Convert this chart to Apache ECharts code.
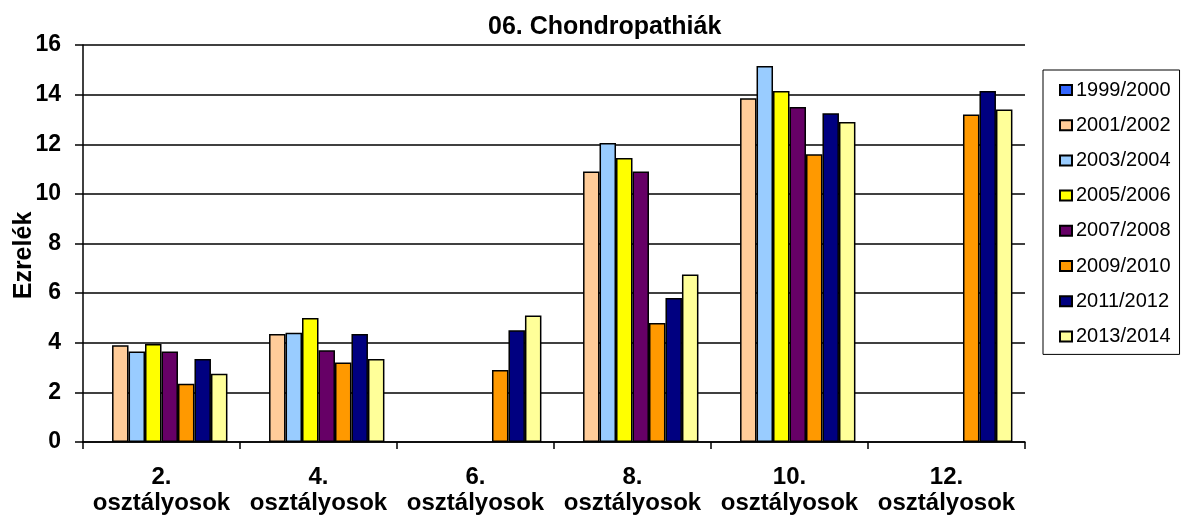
<!DOCTYPE html>
<html>
<head>
<meta charset="utf-8">
<script src="https://cdn.jsdelivr.net/npm/echarts@6/dist/echarts.min.js"></script>
<style>
  html, body { margin: 0; padding: 0; background: #fff; }
  #chart { width: 1183px; height: 515px; }
</style>
</head>
<body>
<div id="chart"></div>
<script>
const categories = ['2.\nosztályosok', '4.\nosztályosok', '6.\nosztályosok', '8.\nosztályosok', '10.\nosztályosok', '12.\nosztályosok'];
const yTicks = [0, 2, 4, 6, 8, 10, 12, 14, 16];

const s1999 = [null, null, null, null, null, null];
const s2001 = [3.9, 4.35, null, 10.9, 13.85, null];
const s2003 = [3.65, 4.4, null, 12.05, 15.15, null];
const s2005 = [3.95, 5.0, null, 11.45, 14.15, null];
const s2007 = [3.65, 3.7, null, 10.9, 13.5, null];
const s2009 = [2.35, 3.2, 2.9, 4.8, 11.6, 13.2];
const s2011 = [3.35, 4.35, 4.5, 5.8, 13.25, 14.15];
const s2013 = [2.75, 3.35, 5.1, 6.75, 12.9, 13.4];

const seriesNames = ['1999/2000', '2001/2002', '2003/2004', '2005/2006', '2007/2008', '2009/2010', '2011/2012', '2013/2014'];
const seriesData = [s1999, s2001, s2003, s2005, s2007, s2009, s2011, s2013];
const colors = ['#3366FF', '#FFCC99', '#99CCFF', '#FFFF00', '#660066', '#FF9900', '#000080', '#FFFF99'];

const font = 'Liberation Sans, Arial, sans-serif';

const chart = echarts.init(document.getElementById('chart'), null, { renderer: 'canvas' });

chart.setOption({
  animation: false,
  backgroundColor: '#fff',
  textStyle: { fontFamily: font, color: '#000' },
  title: {
    text: '06. Chondropathiák',
    left: 483,
    top: 10,
    textStyle: { fontFamily: font, fontWeight: 'bold', fontSize: 25, color: '#000' }
  },
  legend: {
    orient: 'vertical',
    left: 1043,
    top: 70,
    padding: [10, 9, 8, 16],
    itemGap: 15.2,
    itemWidth: 12,
    itemHeight: 10,
    icon: 'rect',
    borderColor: '#000',
    borderWidth: 1,
    borderRadius: 0,
    textStyle: { fontFamily: font, fontSize: 20, color: '#000', padding: [0, 0, 0, -1], lineHeight: 20 },
    data: seriesNames
  },
  grid: { left: 83, right: 158, top: 45, bottom: 73, containLabel: false, outerBoundsMode: 'none' },
  xAxis: {
    type: 'category',
    data: categories,
    axisLine: { lineStyle: { color: '#000', width: 1.5 } },
    axisTick: { show: true, length: 7, lineStyle: { color: '#000', width: 1.5 } },
    axisLabel: {
      interval: 0,
      margin: 22,
      fontFamily: font,
      fontWeight: 'bold',
      fontSize: 24,
      lineHeight: 26,
      color: '#000'
    }
  },
  yAxis: {
    type: 'value',
    min: 0,
    max: 16,
    interval: 2,
    name: 'Ezrelék',
    nameLocation: 'middle',
    nameGap: 46,
    nameMoveOverlap: false,
    nameTextStyle: { fontFamily: font, fontWeight: 'bold', fontSize: 25, color: '#000', padding: [0, 24, 0, 0] },
    axisLine: { show: true, lineStyle: { color: '#000', width: 1.5 } },
    axisTick: { show: true, length: 8, lineStyle: { color: '#000', width: 1.5 } },
    axisLabel: {
      margin: 22,
      fontFamily: font,
      fontWeight: 'bold',
      fontSize: 23,
      color: '#000',
      formatter: v => (yTicks.includes(v) ? String(v) : '')
    },
    splitLine: { show: true, lineStyle: { color: '#000', width: 1.5 } }
  },
  series: seriesData.map((d, i) => ({
    name: seriesNames[i],
    type: 'bar',
    data: d,
    barGap: '0%',
    barCategoryGap: '16%',
    itemStyle: { color: colors[i], borderColor: '#000', borderWidth: 1.5 }
  }))
});
</script>
</body>
</html>
